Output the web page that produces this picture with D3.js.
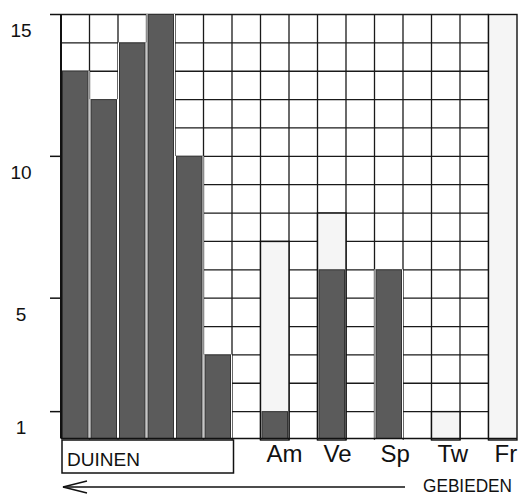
<!DOCTYPE html>
<html>
<head>
<meta charset="utf-8">
<script src="https://cdn.jsdelivr.net/npm/d3@7"></script>
<style>
  body { margin: 0; background: #fff; }
  text { font-family: "Liberation Sans", Arial, sans-serif; fill: #111; }
</style>
</head>
<body>
<svg id="vis" width="519" height="495"></svg>
<script>
// one column per grid cell, 16 across
const columnLabels = ["", "", "", "", "", "", "", "Am", "", "Ve", "", "Sp", "", "Tw", "", "Fr"];
const darkValues  = [13, 12, 14, 15, 10, 3, 0, 1, 0, 6, 0, 6, 0, 0, 0, 0];
const lightValues = [0, 0, 0, 0, 0, 0, 0, 7, 0, 8, 0, 0, 0, 1, 0, 15];
const yTicks = [1, 5, 10, 15];
const groupLabel = "DUINEN";
const axisLabel = "GEBIEDEN";

const svg = d3.select("#vis");

const x = d3.scaleBand()
  .domain(d3.range(columnLabels.length))
  .range([61, 517])
  .padding(0);

const y = d3.scaleLinear().domain([0, 15]).range([440, 14.5]);
const bw = x.bandwidth();
const gridRight = x(15);

// grid
const grid = svg.append("g").attr("stroke", "#1a1a1a").attr("stroke-width", 1.3);
grid.selectAll("line.h")
  .data(d3.range(1, 16))
  .join("line")
  .attr("x1", x(0))
  .attr("x2", gridRight)
  .attr("y1", d => y(d))
  .attr("y2", d => y(d));

grid.selectAll("line.v")
  .data(d3.range(1, 16))
  .join("line")
  .attr("x1", d => x(d))
  .attr("x2", d => x(d))
  .attr("y1", y(15))
  .attr("y2", y(0));

const cols = columnLabels.map((label, i) => ({ i, label, dark: darkValues[i], light: lightValues[i] }));

// light (open) bars
svg.append("g")
  .selectAll("rect")
  .data(cols.filter(d => d.light > 0))
  .join("rect")
  .attr("x", d => x(d.i))
  .attr("y", d => y(d.light))
  .attr("width", bw)
  .attr("height", d => y(0) - y(d.light))
  .attr("fill", "#f5f5f5")
  .attr("stroke", "#111")
  .attr("stroke-width", 1.4);

// dark bars, white gap round each
const darkG = svg.append("g");
darkG.selectAll("rect.gap")
  .data(cols.filter(d => d.dark > 0 && d.light === 0))
  .join("rect")
  .attr("x", d => x(d.i))
  .attr("y", d => y(d.dark) - 0.5)
  .attr("width", bw)
  .attr("height", d => y(0) - y(d.dark))
  .attr("fill", "#fff");

darkG.selectAll("rect.bar")
  .data(cols.filter(d => d.dark > 0))
  .join("rect")
  .attr("x", d => x(d.i) + 1.5)
  .attr("y", d => y(d.dark))
  .attr("width", bw - 3)
  .attr("height", d => y(0) - y(d.dark) - 1.5)
  .attr("fill", "#5b5b5b")
  .attr("stroke", "#333")
  .attr("stroke-width", 1);

// axis line, baseline and ticks
svg.append("line")
  .attr("x1", x(0)).attr("x2", x(0))
  .attr("y1", y(15)).attr("y2", 438.5)
  .attr("stroke", "#111").attr("stroke-width", 2);

svg.append("line")
  .attr("x1", x(0)).attr("x2", 517)
  .attr("y1", 438.5).attr("y2", 438.5)
  .attr("stroke", "#111").attr("stroke-width", 1.5);

svg.append("g")
  .selectAll("line")
  .data(yTicks)
  .join("line")
  .attr("x1", 50).attr("x2", x(0))
  .attr("y1", d => y(d)).attr("y2", d => y(d))
  .attr("stroke", "#111").attr("stroke-width", 1.5);

svg.append("g")
  .selectAll("text")
  .data(yTicks)
  .join("text")
  .attr("x", 21)
  .attr("y", d => y(d) + 22.5)
  .attr("text-anchor", "middle")
  .attr("font-size", 19)
  .text(d => d);

// area labels under columns
svg.append("g")
  .selectAll("text")
  .data(cols.filter(d => d.label))
  .join("text")
  .attr("x", d => x(d.i) + 6)
  .attr("y", 462)
  .attr("font-size", 24)
  .text(d => d.label);

// DUINEN box
svg.append("rect")
  .attr("x", x(0) + 1).attr("y", 440)
  .attr("width", x(6) - x(0) + 0.5).attr("height", 33)
  .attr("fill", "#fff")
  .attr("stroke", "#111").attr("stroke-width", 1.5);

svg.append("text")
  .attr("x", 67).attr("y", 466)
  .attr("font-size", 18)
  .attr("textLength", 73)
  .attr("lengthAdjust", "spacingAndGlyphs")
  .text(groupLabel);

// arrow pointing left
const arrow = svg.append("g").attr("stroke", "#111").attr("stroke-width", 1.4).attr("fill", "none");
arrow.append("line").attr("x1", 63).attr("x2", 405).attr("y1", 487).attr("y2", 487);
arrow.append("path").attr("d", d3.line()([[87, 481], [63, 487], [87, 493]]));

svg.append("text")
  .attr("x", 423).attr("y", 492)
  .attr("font-size", 18)
  .attr("textLength", 89)
  .attr("lengthAdjust", "spacingAndGlyphs")
  .text(axisLabel);
</script>
</body>
</html>
